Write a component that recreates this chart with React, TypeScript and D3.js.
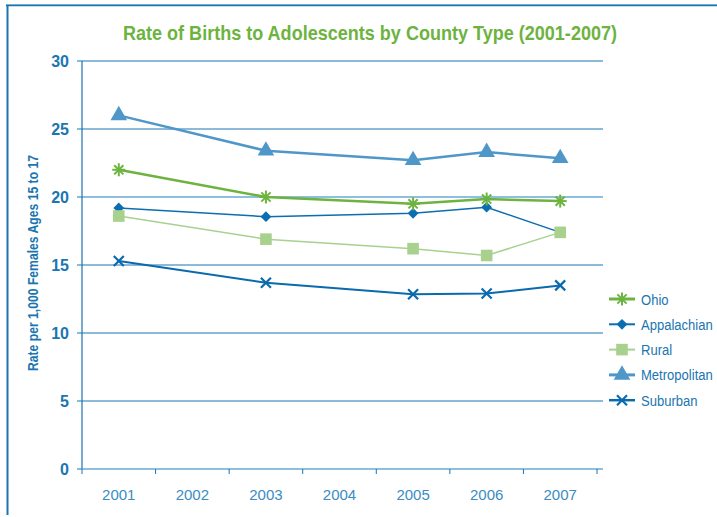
import React from 'react';
import * as d3 from 'd3';

const years = ['2001', '2002', '2003', '2004', '2005', '2006', '2007'];
const dataYears = ['2001', '2003', '2005', '2006', '2007'];
const yTicks = [0, 5, 10, 15, 20, 25, 30];

const ohio = [22.0, 20.0, 19.5, 19.85, 19.7];
const appalachian = [19.2, 18.55, 18.8, 19.25, 17.4];
const rural = [18.6, 16.9, 16.2, 15.7, 17.4];
const metropolitan = [26.0, 23.4, 22.7, 23.3, 22.85];
const suburban = [15.3, 13.7, 12.85, 12.9, 13.5];

const seriesNames = ['Ohio', 'Appalachian', 'Rural', 'Metropolitan', 'Suburban'];

const W = 717;
const H = 517;
const margin = { top: 61, right: 114, bottom: 48, left: 82 };

const x = d3.scaleBand<string>().domain(years).range([margin.left, margin.left + 515]);
const y = d3.scaleLinear().domain([0, 30]).range([H - margin.bottom, margin.top]);

const BLUE = '#1a75b0';

interface Series {
  name: string;
  values: number[];
  color: string;
  width: number;
  marker: string;
}

// draw order: rural markers sit on top of the appalachian ones
const series: Series[] = [
  { name: 'Metropolitan', values: metropolitan, color: '#4f97c9', width: 2.5, marker: 'triangle' },
  { name: 'Appalachian', values: appalachian, color: '#0b6eb0', width: 1.5, marker: 'diamond' },
  { name: 'Rural', values: rural, color: '#a9d18e', width: 1.5, marker: 'square' },
  { name: 'Ohio', values: ohio, color: '#6db33f', width: 2.5, marker: 'asterisk' },
  { name: 'Suburban', values: suburban, color: '#0a6aad', width: 2, marker: 'x' },
];

const Marker: React.FC<{ kind: string; cx: number; cy: number; color: string }> = ({ kind, cx, cy, color }) => {
  if (kind === 'triangle') {
    const p = d3.symbol().type(d3.symbolTriangle).size(120)();
    return <path d={p || ''} transform={`translate(${cx},${cy})`} fill={color} />;
  }
  if (kind === 'diamond') {
    const p = d3.symbol().type(d3.symbolSquare).size(58)();
    return <path d={p || ''} transform={`translate(${cx},${cy}) rotate(45)`} fill={color} />;
  }
  if (kind === 'square') {
    const p = d3.symbol().type(d3.symbolSquare).size(135)();
    return <path d={p || ''} transform={`translate(${cx},${cy})`} fill={color} />;
  }
  if (kind === 'asterisk') {
    const r = 6.5;
    const a = r * Math.SQRT1_2;
    return (
      <g transform={`translate(${cx},${cy})`} stroke={color} strokeWidth={2}>
        <line x1={0} y1={-r} x2={0} y2={r} />
        <line x1={-r} y1={0} x2={r} y2={0} />
        <line x1={-a} y1={-a} x2={a} y2={a} />
        <line x1={-a} y1={a} x2={a} y2={-a} />
      </g>
    );
  }
  const r = 5;
  return (
    <g transform={`translate(${cx},${cy})`} stroke={color} strokeWidth={2.2}>
      <line x1={-r} y1={-r} x2={r} y2={r} />
      <line x1={-r} y1={r} x2={r} y2={-r} />
    </g>
  );
};

const App: React.FC = () => {
  const line = d3
    .line<number>()
    .x((_, i) => (x(dataYears[i]) as number) + x.bandwidth() / 2)
    .y(d => y(d));

  const gridEnd = margin.left + 521;
  const legendOrder = seriesNames.map(n => series.find(s => s.name === n)!);

  return (
    <svg
      width={W}
      height={H}
      style={{ position: 'absolute', left: 0, top: 0, fontFamily: 'Liberation Sans, Arial, sans-serif' }}
    >
      <rect width={W} height={H} fill="#fff" />
      {/* frame */}
      <line x1={6} y1={4.5} x2={W} y2={4.5} stroke="#8cc0e0" strokeWidth={1} />
      <line x1={6} y1={5.5} x2={W} y2={5.5} stroke={BLUE} strokeWidth={1.5} />
      <line x1={7.5} y1={5} x2={7.5} y2={515} stroke={BLUE} strokeWidth={2} />

      <text
        x={370}
        y={40}
        textAnchor="middle"
        fill="#6db33f"
        fontWeight="bold"
        fontSize={21}
        textLength={494}
        lengthAdjust="spacingAndGlyphs"
      >
        Rate of Births to Adolescents by County Type (2001-2007)
      </text>

      {/* gridlines */}
      {yTicks.filter(t => t > 0).map(t => (
        <line
          key={t}
          x1={margin.left}
          x2={gridEnd}
          y1={y(t)}
          y2={y(t)}
          stroke={t === 20 ? '#6aaad6' : BLUE}
          strokeWidth={t === 20 ? 1.5 : 1}
        />
      ))}

      {/* y axis */}
      <line x1={margin.left} x2={margin.left} y1={y(30)} y2={y(0)} stroke={BLUE} strokeWidth={1.2} />
      {yTicks.map(t => (
        <g key={t}>
          <line x1={margin.left - 5} x2={margin.left} y1={y(t)} y2={y(t)} stroke={BLUE} strokeWidth={1} />
          <text
            x={69}
            y={y(t) + 5.5}
            textAnchor="end"
            fill={BLUE}
            fontWeight="bold"
            fontSize={16}
          >
            {t}
          </text>
        </g>
      ))}
      <text
        transform={`translate(38,${263}) rotate(-90)`}
        textAnchor="middle"
        fill={BLUE}
        fontWeight="bold"
        fontSize={15}
        textLength={216}
        lengthAdjust="spacingAndGlyphs"
      >
        Rate per 1,000 Females Ages 15 to 17
      </text>

      {/* x axis */}
      <line x1={margin.left} x2={gridEnd} y1={y(0)} y2={y(0)} stroke="#6aaad6" strokeWidth={1.5} />
      {years.map(yr => (
        <line
          key={'t' + yr}
          x1={x(yr) as number}
          x2={x(yr) as number}
          y1={y(0)}
          y2={y(0) + 5}
          stroke={BLUE}
          strokeWidth={1}
        />
      ))}
      <line x1={x.range()[1]} x2={x.range()[1]} y1={y(0)} y2={y(0) + 5} stroke={BLUE} strokeWidth={1} />
      {years.map(yr => (
        <text
          key={yr}
          x={(x(yr) as number) + x.bandwidth() / 2}
          y={500}
          textAnchor="middle"
          fill="#3a8cc4"
          fontSize={15}
        >
          {yr}
        </text>
      ))}

      {/* series */}
      {series.map(s => (
        <g key={s.name}>
          <path d={line(s.values) || ''} fill="none" stroke={s.color} strokeWidth={s.width} />
          {s.values.map((v, i) => (
            <Marker
              key={i}
              kind={s.marker}
              cx={(x(dataYears[i]) as number) + x.bandwidth() / 2}
              cy={y(v)}
              color={s.color}
            />
          ))}
        </g>
      ))}

      {/* legend */}
      {legendOrder.map((s, i) => {
        const ly = 299 + i * 25.3;
        return (
          <g key={s.name}>
            <line x1={609} x2={635} y1={ly} y2={ly} stroke={s.color} strokeWidth={s.width + 0.5} />
            <Marker kind={s.marker} cx={622} cy={ly} color={s.color} />
            <text
              transform={`translate(641,${ly + 5.5}) scale(0.87,1)`}
              fill={BLUE}
              fontSize={15}
            >
              {s.name}
            </text>
          </g>
        );
      })}
    </svg>
  );
};

export default App;
